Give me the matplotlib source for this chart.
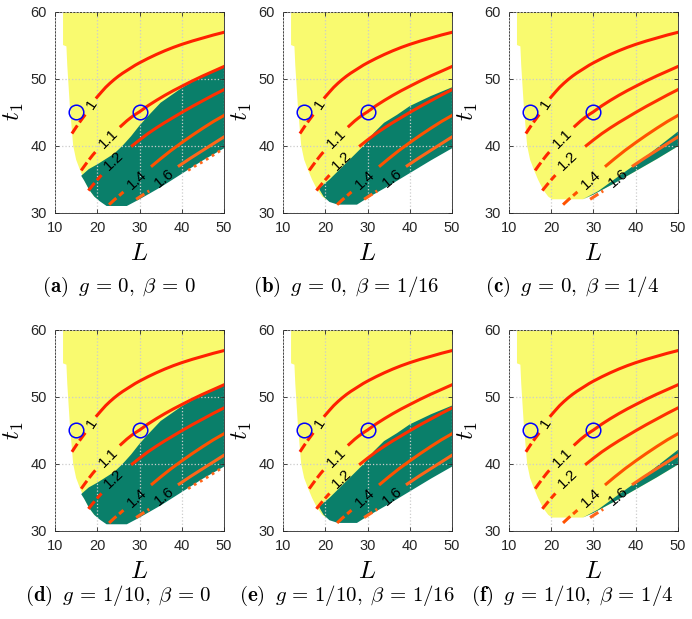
import numpy as np
import matplotlib.pyplot as plt
from matplotlib.patches import Polygon

plt.rcParams['font.family'] = ['Liberation Sans', 'DejaVu Sans']
plt.rcParams['mathtext.fontset'] = 'cm'

# feasible region (yellow), same in every panel
yellow_L = [11.9, 11.9, 12.7, 12.9, 13.2, 13.5, 13.9, 14.3, 15.0, 15.9, 16.9, 18.1, 19.3, 20.2,
            27.5, 30.0, 35.0, 40.0, 45.0, 50.0, 50.0]
yellow_t = [60.0, 55.0, 54.8, 52.0, 49.0, 46.0, 43.0, 40.0, 37.9, 36.4, 34.9, 33.4, 32.4, 32.0,
            32.0, 32.7, 34.4, 36.2, 38.0, 39.9, 60.0]

# green region, one outline per beta (g=0 and g=1/10 look the same)
green_b0_L = [16.2, 18.0, 20.0, 22.0, 24.0, 26.0, 28.0, 30.0, 32.0, 35.0, 40.0, 45.0, 50.0,
              50.0, 45.0, 40.0, 35.0, 30.0, 27.0, 22.2, 20.6, 19.3, 18.1, 16.9]
green_b0_t = [35.5, 36.5, 37.2, 38.0, 38.8, 40.0, 41.4, 43.0, 44.4, 46.4, 48.6, 50.4, 51.9,
              39.6, 37.8, 35.8, 33.8, 32.0, 31.0, 31.0, 31.7, 32.4, 33.4, 34.8]
green_b16_L = [18.5, 21.1, 23.5, 25.9, 29.1, 31.5, 33.9, 37.0, 40.0, 45.0, 50.0,
               50.0, 45.0, 40.0, 35.0, 30.0, 27.5, 23.0, 21.0, 19.6]
green_b16_t = [33.6, 35.0, 36.5, 38.0, 40.0, 41.9, 43.4, 44.6, 45.9, 47.4, 48.7,
               39.6, 37.8, 35.9, 34.0, 32.2, 31.2, 31.2, 31.6, 32.4]
green_b4_L = [27.5, 31.1, 35.0, 39.7, 44.5, 50.0, 50.0, 45.0, 40.0, 35.0, 30.0]
green_b4_t = [32.0, 33.2, 35.0, 37.1, 39.4, 42.1, 39.9, 38.0, 36.2, 34.4, 32.7]

# contour lines: dashed part before the label, label spot, solid part after
levels = ['1', '1.1', '1.2', '1.4', '1.6']
pre_L = [[14.0, 15.0, 16.0, 17.0, 17.6],
         [16.2, 17.0, 18.0, 19.0, 19.9],
         [17.9, 19.0, 20.0, 21.0],
         [22.8, 24.0, 25.2, 26.2],
         [29.2, 30.8, 32.3]]
pre_t = [[41.8, 42.75, 43.65, 44.5, 45.0],
         [36.3, 37.0, 37.85, 38.65, 39.3],
         [33.3, 34.15, 34.9, 35.6],
         [31.2, 31.9, 32.55, 33.1],
         [32.0, 32.65, 33.25]]
lab_L = [18.7, 22.6, 24.0, 29.3, 35.9]
lab_t = [46.1, 41.0, 37.8, 34.9, 35.2]
post_L = [[19.9, 21, 22, 23, 24, 25, 26, 27, 28, 29, 30, 32, 34, 36, 38, 40, 42.5, 45, 47.5, 50],
          [25.6, 27, 28, 29, 30, 32, 34, 36, 38, 40, 42.5, 45, 47.5, 50],
          [28.3, 30, 32, 34, 36, 38, 40, 42.5, 45, 47.5, 50],
          [33.0, 35, 37.5, 40, 42.5, 45, 47.5, 50],
          [39.4, 42, 45, 47.5, 50]]
post_t = [[47.2, 48.0, 48.7, 49.3, 49.85, 50.35, 50.8, 51.2, 51.6, 52.0, 52.35, 53.0, 53.6,
           54.15, 54.65, 55.1, 55.6, 56.05, 56.5, 56.9],
          [42.9, 43.7, 44.2, 44.65, 45.05, 45.95, 46.75, 47.5, 48.2, 48.85, 49.65, 50.4, 51.1, 51.8],
          [40.0, 40.85, 41.8, 42.65, 43.45, 44.2, 44.95, 45.85, 46.7, 47.55, 48.35],
          [37.0, 38.05, 39.3, 40.45, 41.55, 42.6, 43.6, 44.5],
          [37.0, 38.1, 39.3, 40.3, 41.3]]
line_colors = ['#ff2000', '#ff2600', '#ff3000', '#ff5200', '#ff661a']

# dotted bit under the green edge in beta=0 panels
dots_L = [41.5, 43.0, 45.0, 47.0, 49.5]
dots_t = [36.3, 36.9, 37.6, 38.4, 39.4]

circle_L = [15, 30]
circle_t = [45, 45]

tags = ['(a)', '(b)', '(c)', '(d)', '(e)', '(f)']
g_text = ['0', '0', '0', '1/10', '1/10', '1/10']
beta_text = ['0', '1/16', '1/4', '0', '1/16', '1/4']
green_L = [green_b0_L, green_b16_L, green_b4_L] * 2
green_t = [green_b0_t, green_b16_t, green_b4_t] * 2

yellow = '#f9fa6f'
green = '#0a7f6a'

fig = plt.figure(figsize=(6.92, 6.19), dpi=100)
col_left = [0.0795, 0.409, 0.7355]
row_bottom = [0.6564, 0.1422]
w, h = 0.2442, 0.325

for i in range(6):
    r, c = divmod(i, 3)
    ax = fig.add_axes([col_left[c], row_bottom[r], w, h])
    ax.set_xlim(10, 50)
    ax.set_ylim(30, 60)

    ax.add_patch(Polygon(np.column_stack([yellow_L, yellow_t]), closed=True,
                         facecolor=yellow, edgecolor='none', zorder=1))
    ax.add_patch(Polygon(np.column_stack([green_L[i], green_t[i]]), closed=True,
                         facecolor=green, edgecolor='none', zorder=1.5))

    for k in range(len(levels)):
        ax.plot(pre_L[k], pre_t[k], color=line_colors[k], lw=2.2, ls=(0, (3.2, 1.2)),
                solid_capstyle='butt', zorder=3)
        ax.plot(post_L[k], post_t[k], color=line_colors[k], lw=2.2, zorder=3)
        p0 = ax.transData.transform((pre_L[k][-1], pre_t[k][-1]))
        p1 = ax.transData.transform((post_L[k][0], post_t[k][0]))
        ang = np.degrees(np.arctan2(p1[1] - p0[1], p1[0] - p0[0]))
        ax.text(lab_L[k], lab_t[k], levels[k], rotation=ang, rotation_mode='anchor',
                ha='center', va='center', fontsize=11, color='black', zorder=4)
    if beta_text[i] == '0':
        ax.plot(dots_L, dots_t, color='#ff661a', lw=2.0, ls=(0, (1, 1.5)), zorder=3)

    ax.plot(circle_L, circle_t, 'o', ms=10.5, mfc='none', mec='#0000ff', mew=1.1,
            ls='none', zorder=5)

    ax.set_xticks([10, 20, 30, 40, 50])
    ax.set_yticks([30, 40, 50, 60])
    ax.grid(True, ls=':', color='#cccccc', lw=0.9)
    ax.set_axisbelow(False)
    ax.tick_params(direction='in', length=3, top=True, right=True, labelsize=10.5,
                   colors='#262626', width=0.6, pad=6)
    for s in ax.spines.values():
        s.set_color('#262626')
        s.set_linewidth(0.6)
    ax.set_xlabel('$L$', fontsize=18, labelpad=4)
    ax.set_ylabel('$t_1$', fontsize=18, labelpad=3)

    cx = col_left[c] + w / 2 - 21 / 692
    cy = 1 - (287 if r == 0 else 596) / 619
    cap = (r'$\mathbf{' + tags[i] + r'}\;\;g\,=\,' + g_text[i] + r',\;\beta\,=\,'
           + beta_text[i] + '$')
    fig.text(cx, cy, cap, ha='center', va='center', fontsize=15)

fig.savefig('out.png', dpi=100)
